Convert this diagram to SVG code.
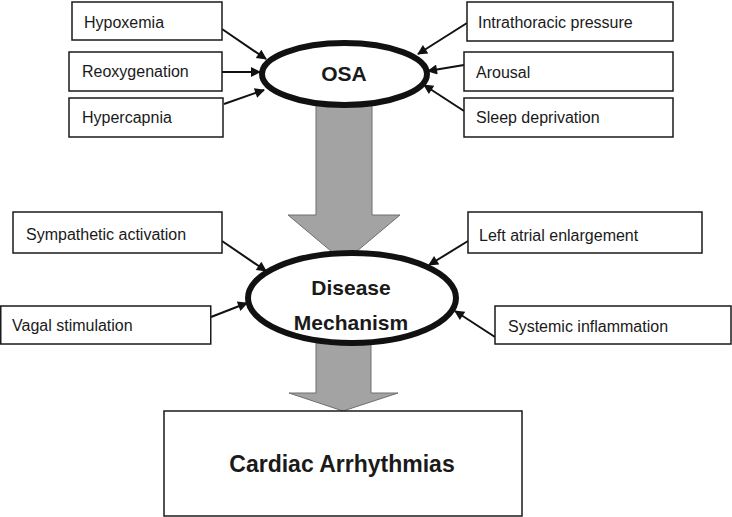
<svg xmlns="http://www.w3.org/2000/svg" width="732" height="517" viewBox="0 0 732 517">
<defs>
<style>
.box{fill:#fff;stroke:#1a1a1a;stroke-width:1.5}
.lbl{font-family:"Liberation Sans",Arial,sans-serif;font-size:16px;fill:#1a1a1a}
.big{font-family:"Liberation Sans",Arial,sans-serif;font-weight:bold;fill:#1a1a1a;text-anchor:middle}
.ell{fill:#fff;stroke:#111;stroke-width:6}
.flow{fill:#a3a3a3;stroke:#6e6e6e;stroke-width:1}
.con{stroke:#111;stroke-width:2;fill:none;marker-end:url(#ah)}
</style>
<marker id="ah" viewBox="0 0 10 10" refX="9" refY="5" markerWidth="6" markerHeight="5" markerUnits="strokeWidth" orient="auto">
<path d="M0,0 L10,5 L0,10 z" fill="#111"/>
</marker>
</defs>
<rect width="732" height="517" fill="#fff"/>
<g id="flow-arrows">
<polygon class="flow" points="316,105 372,105 372,215 400,215 344,262 288,215 316,215"/>
<polygon class="flow" points="316,343 371,343 371,393 398,393 343,411 289,393 316,393"/>
</g>
<g id="connectors">
<line class="con" x1="222" y1="29" x2="266" y2="59"/>
<line class="con" x1="222" y1="72" x2="260" y2="72"/>
<line class="con" x1="224" y1="104" x2="264" y2="90"/>
<line class="con" x1="467" y1="23" x2="418" y2="54"/>
<line class="con" x1="464" y1="65" x2="428" y2="71"/>
<line class="con" x1="464" y1="111" x2="424" y2="85"/>
<line class="con" x1="222" y1="241" x2="266" y2="271"/>
<line class="con" x1="211" y1="317" x2="247" y2="303"/>
<line class="con" x1="468" y1="241" x2="429" y2="265"/>
<line class="con" x1="495" y1="337" x2="455" y2="311"/>
</g>
<g id="osa">
<ellipse class="ell" cx="344.5" cy="74" rx="82.5" ry="31"/>
<text class="big" x="344" y="81" font-size="21">OSA</text>
</g>
<g id="disease-mechanism">
<ellipse class="ell" cx="352" cy="298" rx="104" ry="45"/>
<text class="big" x="351" y="295" font-size="21">Disease</text>
<text class="big" x="351" y="330" font-size="21">Mechanism</text>
</g>
<g id="cardiac-arrhythmias">
<rect class="box" x="164" y="411" width="358" height="105"/>
<text class="big" x="342" y="472" font-size="23">Cardiac Arrhythmias</text>
</g>
<g id="hypoxemia">
<rect class="box" x="72" y="2" width="150" height="38"/>
<text class="lbl" x="84" y="28">Hypoxemia</text>
</g>
<g id="reoxygenation">
<rect class="box" x="69" y="52" width="153" height="39"/>
<text class="lbl" x="82" y="77">Reoxygenation</text>
</g>
<g id="hypercapnia">
<rect class="box" x="69" y="98" width="154" height="39"/>
<text class="lbl" x="82" y="123">Hypercapnia</text>
</g>
<g id="intrathoracic-pressure">
<rect class="box" x="467" y="2" width="206" height="39"/>
<text class="lbl" x="478" y="28">Intrathoracic pressure</text>
</g>
<g id="arousal">
<rect class="box" x="464" y="52" width="209" height="39"/>
<text class="lbl" x="476" y="78">Arousal</text>
</g>
<g id="sleep-deprivation">
<rect class="box" x="464" y="98" width="209" height="39"/>
<text class="lbl" x="476" y="123">Sleep deprivation</text>
</g>
<g id="sympathetic-activation">
<rect class="box" x="13" y="212" width="209" height="41"/>
<text class="lbl" x="26" y="240">Sympathetic activation</text>
</g>
<g id="vagal-stimulation">
<rect class="box" x="0.75" y="306" width="210" height="38"/>
<text class="lbl" x="12" y="331">Vagal stimulation</text>
</g>
<g id="left-atrial-enlargement">
<rect class="box" x="468" y="212" width="234" height="41"/>
<text class="lbl" x="479" y="241">Left atrial enlargement</text>
</g>
<g id="systemic-inflammation">
<rect class="box" x="495" y="306" width="236" height="38"/>
<text class="lbl" x="508" y="332">Systemic inflammation</text>
</g>
</svg>
